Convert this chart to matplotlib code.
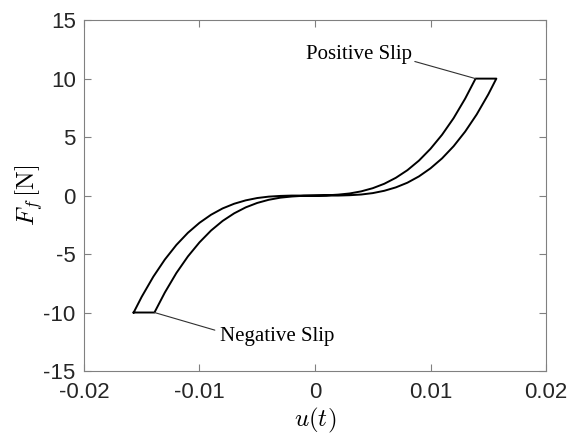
import matplotlib
matplotlib.use("Agg")
import matplotlib.pyplot as plt

# upper branch (loading)
u_up = [-0.0157, -0.015, -0.014, -0.013, -0.012, -0.011, -0.010, -0.009, -0.008,
        -0.007, -0.006, -0.005, -0.004, -0.003, -0.002, -0.001, 0.0, 0.001, 0.002,
        0.003, 0.004, 0.005, 0.006, 0.007, 0.008, 0.009, 0.010, 0.011, 0.012,
        0.013, 0.0139]
f_up = [-10.0, -8.65, -6.94, -5.47, -4.22, -3.18, -2.33, -1.64, -1.10,
        -0.70, -0.41, -0.21, -0.09, -0.03, 0.0, 0.0, 0.0, 0.02, 0.08,
        0.18, 0.36, 0.63, 1.01, 1.52, 2.17, 2.99, 4.00, 5.20, 6.62,
        8.29, 10.0]
# lower branch (unloading)
u_lo = [0.0157, 0.015, 0.014, 0.013, 0.012, 0.011, 0.010, 0.009, 0.008,
        0.007, 0.006, 0.005, 0.004, 0.003, 0.002, 0.001, 0.0, -0.001, -0.002,
        -0.003, -0.004, -0.005, -0.006, -0.007, -0.008, -0.009, -0.010, -0.011,
        -0.012, -0.013, -0.0139]
f_lo = [10.0, 8.65, 6.94, 5.47, 4.22, 3.18, 2.33, 1.64, 1.10,
        0.70, 0.41, 0.21, 0.09, 0.03, 0.0, 0.0, 0.0, -0.02, -0.08,
        -0.18, -0.36, -0.63, -1.01, -1.52, -2.17, -2.99, -4.00, -5.20,
        -6.62, -8.29, -10.0]

xticks = [-0.02, -0.01, 0, 0.01, 0.02]
xtick_labels = ["-0.02", "-0.01", "0", "0.01", "0.02"]
yticks = [-15, -10, -5, 0, 5, 10, 15]
ytick_labels = ["-15", "-10", "-5", "0", "5", "10", "15"]

plt.rcParams['font.family'] = ['Liberation Sans', 'DejaVu Sans']
plt.rcParams['mathtext.fontset'] = 'cm'
plt.rcParams['axes.unicode_minus'] = False

fig = plt.figure(figsize=(5.69, 4.38), dpi=100)
ax = fig.add_axes([0.1476, 0.153, 0.812, 0.801])

# closed loop: up branch, top slip, down branch, bottom slip
loop_u = u_up + u_lo + [u_up[0]]
loop_f = f_up + f_lo + [f_up[0]]
ax.plot(loop_u, loop_f, color='black', lw=1.4)

ax.set_xlim(-0.02, 0.02)
ax.set_ylim(-15, 15)
ax.set_xticks(xticks)
ax.set_xticklabels(xtick_labels)
ax.set_yticks(yticks)
ax.set_yticklabels(ytick_labels)
ax.tick_params(direction='in', top=True, right=True, labelsize=16,
               color='#808080', labelcolor='#262626', length=5, width=0.8)
ax.tick_params(axis='x', pad=8)
ax.tick_params(axis='y', pad=6)
for s in ax.spines.values():
    s.set_color('#808080')
    s.set_linewidth(0.8)

ax.set_xlabel(r'$u(t)$', fontsize=18, labelpad=2)
ax.set_ylabel(r'$F_f\,[\mathrm{N}]$', fontsize=18, labelpad=-1)

ax.annotate('Positive Slip', xy=(u_up[-1], f_up[-1]), xytext=(0.0084, 12.1),
            fontsize=15, family='Liberation Serif', ha='right', va='center',
            arrowprops=dict(arrowstyle='-', color='#303030', lw=0.8,
                            shrinkA=0, shrinkB=0, relpos=(1.0, 0.15)))
ax.annotate('Negative Slip', xy=(u_lo[-1], f_lo[-1]), xytext=(-0.0082, -12.05),
            fontsize=15, family='Liberation Serif', ha='left', va='center',
            arrowprops=dict(arrowstyle='-', color='#303030', lw=0.8,
                            shrinkA=2, shrinkB=0, relpos=(0.0, 0.75)))

fig.savefig('out.png', dpi=100)
